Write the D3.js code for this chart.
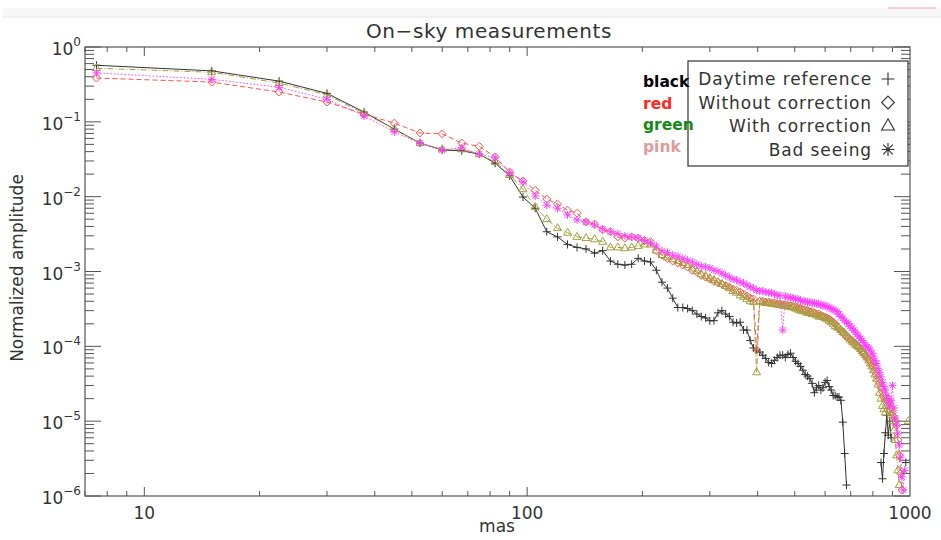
<!DOCTYPE html>
<html>
<head>
<meta charset="utf-8">
<script src="https://cdn.jsdelivr.net/npm/d3@7/dist/d3.min.js"></script>
<style>
  body { margin: 0; background: #fff; }
  svg text { font-family: "DejaVu Sans", sans-serif; }
</style>
</head>
<body>
<div id="chart"></div>
<script>
// sample positions (mas)
const mas = [7.5,15,22.5,30,37.5,45,52.5,60,67.5,75,82.5,90,97.5,105,112.5,120,127.5,135,142.5,150,
  157.5,165,172.5,180,187.5,195,202.5,210,217.5,225,232.5,240,247.5,255,262.5,270,277.5,285,292.5,300,
  307.5,315,322.5,330,337.5,345,352.5,360,367.5,375,382.5,390,397.5,405,412.5,420,427.5,435,442.5,450,
  457.5,465,472.5,480,487.5,495,502.5,510,517.5,525,532.5,540,547.5,555,562.5,570,577.5,585,592.5,600,
  607.5,615,622.5,630,637.5,645,652.5,660,667.5,675,682.5,690,697.5,705,712.5,720,727.5,735,742.5,750,
  757.5,765,772.5,780,787.5,795,802.5,810,817.5,825,832.5,840,847.5,855,862.5,870,877.5,885,892.5,900,
  907.5,915,922.5,930,937.5,945,952.5,960,967.5,975,982.5,990];

const daytime = [0.57,0.48,0.35,0.24,0.135,0.080,0.052,0.042,0.041,0.037,
  0.028,0.019,0.0099,0.0070,0.0034,0.0029,0.0023,0.0021,0.0020,0.00176,
  0.0019,0.00138,0.00125,0.00122,0.00125,0.0015,0.00138,0.00134,0.00104,0.00072,
  0.0006,0.00044,0.00033,0.00033,0.00032,0.0003,0.00027,0.00025,0.00024,0.00022,
  0.00022,0.00028,0.0003,0.00027,0.00025,0.00021,0.000205,0.00021,0.000165,0.000165,
  0.00012,9.5e-5,8.9e-5,8.4e-5,7.6e-5,6.9e-5,6.1e-5,5.9e-5,6.5e-5,7.1e-5,
  7.6e-5,7.6e-5,7.1e-5,7.8e-5,8.1e-5,7.1e-5,6.3e-5,5.9e-5,5.4e-5,4.8e-5,
  4.2e-5,4.0e-5,3.7e-5,3.2e-5,2.4e-5,2.8e-5,3.0e-5,2.6e-5,2.8e-5,3.3e-5,
  3.5e-5,2.9e-5,2.6e-5,2.2e-5,2.2e-5,2.1e-5,2.1e-5,1.9e-5,9.7e-6,3.7e-6,
  1.4e-6,null,null,null,null,null,null,null,null,null,
  null,null,null,null,null,null,null,null,null,null,
  null,2.8e-6,1.7e-6,3.7e-6,7.0e-6,1.2e-5,6.5e-6,1.0e-5,6.0e-6,null,
  null,null,null,null,null,null,null,null,null,2.8e-6,null,null];

const withoutCorr = [0.385,0.34,0.25,0.184,0.127,0.096,0.071,0.069,0.052,0.047,
  0.034,0.0213,0.0162,0.0122,0.0093,0.0080,0.0066,0.0060,0.0046,0.0043,
  0.0036,0.0034,0.0029,0.0028,0.0029,0.0028,0.0026,0.0025,0.0019,0.00166,
  0.0015,0.00138,0.0013,0.00122,0.00115,0.00104,0.00098,0.00089,0.00084,0.00079,
  0.00074,0.00072,0.00068,0.00064,0.00062,0.00058,0.00056,0.00053,0.0005,0.00047,
  0.00044,0.00043,8.9e-5,0.0004,0.0004,0.00039,0.00039,0.00038,0.00038,0.00037,
  0.00037,0.00036,0.00036,0.00035,0.00035,0.00034,0.00034,0.00033,0.00032,0.00031,
  0.00031,0.0003,0.00029,0.00029,0.00028,0.00027,0.00027,0.00026,0.00025,0.000245,
  0.00024,0.00023,0.00022,0.00021,0.0002,0.000186,0.000175,0.000165,0.000155,0.000145,
  0.000136,0.000132,0.000124,0.00012,0.000112,0.000109,0.000102,9.8e-5,9.2e-5,8.6e-5,
  8.1e-5,7.6e-5,7.1e-5,6.7e-5,6.3e-5,5.7e-5,5.2e-5,4.6e-5,4.1e-5,3.5e-5,
  3.2e-5,2.8e-5,2.5e-5,2.2e-5,2.0e-5,1.9e-5,1.8e-5,1.7e-5,1.5e-5,1.3e-5,
  1.15e-5,1.0e-5,8.8e-6,5.6e-6,3.5e-6,2.0e-6,1.2e-6,null,null,null,null,null];

const withCorr = [0.52,0.46,0.33,0.23,0.13,0.080,0.052,0.043,0.043,0.037,
  0.029,0.0195,0.0126,0.0073,0.0050,0.0038,0.0033,0.0029,0.0028,0.0027,
  0.0025,0.0021,0.0021,0.00205,0.0021,0.0022,0.0023,0.0023,0.0019,0.00166,
  0.00155,0.00146,0.00138,0.0013,0.00122,0.0011,0.00101,0.00092,0.00087,0.00082,
  0.00077,0.00072,0.00068,0.00064,0.0006,0.00055,0.00052,0.00048,0.00046,0.00043,
  0.0004,0.00039,4.5e-5,0.0004,0.00039,0.00038,0.00038,0.00037,0.00037,0.00036,
  0.00036,0.00035,0.00035,0.00034,0.00034,0.00033,0.00032,0.00031,0.0003,0.0003,
  0.00029,0.00028,0.00028,0.00027,0.00027,0.00026,0.00025,0.00025,0.000245,0.00024,
  0.00023,0.00022,0.00021,0.0002,0.000186,0.00018,0.000175,0.000165,0.000155,0.00015,
  0.00014,0.000132,0.000124,0.000116,0.000112,0.000105,0.000102,9.8e-5,9.2e-5,8.6e-5,
  8.1e-5,7.6e-5,7.1e-5,6.5e-5,5.9e-5,5.4e-5,4.8e-5,4.2e-5,3.7e-5,3.1e-5,
  2.4e-5,2.0e-5,1.6e-5,1.45e-5,1.3e-5,1.6e-5,2.0e-5,1.4e-5,1.2e-5,1.0e-5,
  7.5e-6,5.6e-6,3.5e-6,2.2e-6,1.4e-6,null,null,null,null,null,null,1.0e-5];

const badSeeing = [0.45,0.37,0.29,0.20,0.12,0.073,0.052,0.042,0.045,0.037,
  0.033,0.021,0.0158,0.0102,0.0077,0.0070,0.0057,0.0049,0.0046,0.0042,
  0.0037,0.0034,0.0032,0.0030,0.0029,0.0028,0.0026,0.0024,0.0022,0.0019,
  0.0018,0.00166,0.0016,0.0015,0.00142,0.00134,0.00125,0.00118,0.00115,0.00111,
  0.00104,0.00101,0.00095,0.00089,0.00084,0.00079,0.00077,0.00072,0.0007,0.00066,
  0.00062,0.0006,0.00056,0.00055,0.00055,0.00053,0.00052,0.00052,0.0005,0.00048,
  0.00048,0.000165,0.00047,0.00045,0.00045,0.00044,0.00043,0.00043,0.00041,0.0004,
  0.0004,0.00039,0.00039,0.00038,0.00038,0.00037,0.00037,0.00036,0.00035,0.00035,
  0.00034,0.00033,0.00032,0.00031,0.0003,0.00029,0.00027,0.00025,0.00024,0.00022,
  0.00021,0.0002,0.000186,0.000175,0.000165,0.000155,0.000145,0.000136,0.000127,0.00012,
  0.000112,0.000102,9.8e-5,9.5e-5,8.9e-5,8.1e-5,7.4e-5,6.5e-5,5.9e-5,5.1e-5,
  4.5e-5,3.9e-5,3.3e-5,2.9e-5,2.6e-5,2.2e-5,1.9e-5,1.6e-5,1.9e-5,3.0e-5,
  1.5e-5,1.1e-5,8.8e-6,6.9e-6,4.8e-6,3.3e-6,1.8e-6,1.2e-6,2.2e-6,null,null,null];

const yTickExps = [0,-1,-2,-3,-4,-5,-6];
const xTickValues = [10,100,1000];
const legendNames = ["Daytime reference","Without correction","With correction","Bad seeing"];
const colorNames = ["black","red","green","pink"];

const W = 941, H = 540;
const L = 85, R = 910, T = 47, B = 496;

const svg = d3.select("#chart").append("svg")
  .attr("width", W).attr("height", H);

// faint strip at the very top of the page
svg.append("rect").attr("x", 3).attr("y", 8).attr("width", W - 3).attr("height", 9).attr("fill", "#f7f7f7");
svg.append("line").attr("x1", 3).attr("x2", W).attr("y1", 17).attr("y2", 17).attr("stroke", "#e4e4e4");
svg.append("line").attr("x1", 888).attr("x2", 936).attr("y1", 8).attr("y2", 8).attr("stroke", "#f4a0a0");

const x = d3.scaleLog().domain([7, 1000]).range([L, R]);
const y = d3.scaleLog().domain([1e-6, 1]).range([B, T]);

const axisColor = "#555";

// ticks
const xMinor = [];
[1, 10, 100].forEach(d => { for (let m = 1; m <= 9; m++) { const v = d * m; if (v >= 7 && v <= 1000) xMinor.push(v); } });
const yMinor = [];
yTickExps.forEach(e => { for (let m = 2; m <= 9; m++) { const v = m * Math.pow(10, e); if (v <= 1) yMinor.push(v); } });

const g = svg.append("g");
xMinor.forEach(v => {
  const major = xTickValues.includes(v);
  const len = major ? 9 : 5;
  g.append("line").attr("x1", x(v)).attr("x2", x(v)).attr("y1", B).attr("y2", B - len).attr("stroke", axisColor);
  g.append("line").attr("x1", x(v)).attr("x2", x(v)).attr("y1", T).attr("y2", T + len).attr("stroke", axisColor);
});
yMinor.concat(yTickExps.map(e => Math.pow(10, e))).forEach(v => {
  const major = Math.abs(Math.log10(v) - Math.round(Math.log10(v))) < 1e-9;
  const len = major ? 16 : 9;
  g.append("line").attr("y1", y(v)).attr("y2", y(v)).attr("x1", L).attr("x2", L + len).attr("stroke", axisColor);
  g.append("line").attr("y1", y(v)).attr("y2", y(v)).attr("x1", R).attr("x2", R - len).attr("stroke", axisColor);
});
g.append("rect").attr("x", L).attr("y", T).attr("width", R - L).attr("height", B - T)
  .attr("fill", "none").attr("stroke", axisColor).attr("stroke-width", 1.2);

// y tick labels 10^n
yTickExps.forEach(e => {
  const t = svg.append("text").attr("x", 81).attr("y", y(Math.pow(10, e)) + 8)
    .attr("text-anchor", "end").attr("font-size", 17).attr("fill", "#333");
  t.append("tspan").text("10");
  t.append("tspan").attr("dy", -9).attr("font-size", 12).text(e === 0 ? "0" : "\u2212" + (-e));
});
xTickValues.forEach(v => {
  svg.append("text").attr("x", x(v)).attr("y", 519).attr("text-anchor", "middle")
    .attr("font-size", 17).attr("fill", "#333").text(v);
});

svg.append("text").attr("x", 497).attr("y", 532).attr("text-anchor", "middle")
  .attr("font-size", 17).attr("fill", "#333").text("mas");
svg.append("text").attr("transform", "translate(23,268) rotate(-90)").attr("text-anchor", "middle")
  .attr("font-size", 17).attr("fill", "#333").text("Normalized amplitude");
svg.append("text").attr("x", 489).attr("y", 38).attr("text-anchor", "middle")
  .attr("font-size", 20).attr("fill", "#333").attr("letter-spacing", 0.6).text("On\u2212sky measurements");

// series
const symbols = {
  plus: "M-4,0H4M0,-4V4",
  diamond: "M0,-4L4,0L0,4L-4,0Z",
  triangle: "M0,-4.5L4,2.5H-4Z",
  star: "M-4,0H4M0,-4V4M-3,-3L3,3M-3,3L3,-3"
};
const series = [
  { values: daytime, color: "#333", dash: null, sym: "plus" },
  { values: withoutCorr, color: "#ff5050", dash: "5,3", sym: "diamond" },
  { values: withCorr, color: "#a3a040", dash: "6,2,1,2", sym: "triangle" },
  { values: badSeeing, color: "#ff40ff", dash: "1.5,2", sym: "star" }
];

svg.append("clipPath").attr("id", "clip").append("rect")
  .attr("x", L).attr("y", T).attr("width", R - L).attr("height", B - T);
const plot = svg.append("g").attr("clip-path", "url(#clip)");

const line = d3.line().defined(d => d.v != null).x(d => x(d.x)).y(d => y(d.v));
series.forEach(s => {
  const pts = mas.map((m, i) => ({ x: m, v: s.values[i] == null ? null : s.values[i] }));
  plot.append("path").datum(pts).attr("d", line).attr("fill", "none")
    .attr("stroke", s.color).attr("stroke-width", 1).attr("stroke-dasharray", s.dash);
  plot.selectAll(null).data(pts.filter(d => d.v != null)).enter().append("path")
    .attr("transform", d => `translate(${x(d.x)},${y(d.v)})`)
    .attr("d", symbols[s.sym]).attr("fill", "none").attr("stroke", s.color).attr("stroke-width", 1);
});

// legend box
const lg = svg.append("g");
lg.append("rect").attr("x", 688).attr("y", 61).attr("width", 220).attr("height", 105)
  .attr("fill", "#fff").attr("stroke", "#333").attr("stroke-width", 1.2);
const legendSyms = ["plus", "diamond", "triangle", "star"];
legendNames.forEach((n, i) => {
  const yy = 85 + i * 23.5;
  lg.append("text").attr("x", 872).attr("y", yy).attr("text-anchor", "end")
    .attr("font-size", 17).attr("fill", "#333").attr("letter-spacing", 0.9).text(n);
  lg.append("path").attr("transform", `translate(888,${yy - 6}) scale(1.6)`)
    .attr("d", symbols[legendSyms[i]]).attr("fill", "none").attr("stroke", "#333").attr("stroke-width", 0.7);
});

const nameColors = ["#000", "#ff2a1a", "#168a16", "#e39a9a"];
colorNames.forEach((n, i) => {
  svg.append("text").attr("x", 643).attr("y", 87 + i * 21.5)
    .attr("font-family", "Liberation Sans, Arial, sans-serif").attr("font-weight", "bold")
    .attr("font-size", 15.5).attr("fill", nameColors[i]).text(n);
});
</script>
</body>
</html>
